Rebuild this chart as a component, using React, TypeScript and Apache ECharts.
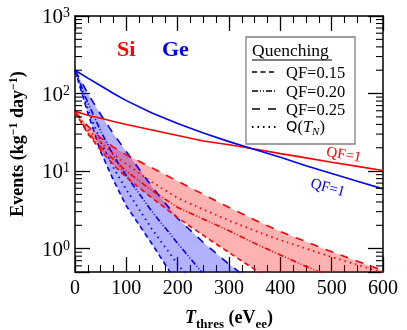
import React, { useEffect, useRef } from 'react';
import * as echarts from 'echarts';

// Threshold grid (eVee)
const T = [0, 25, 50, 75, 100, 150, 200, 250, 300, 350, 400, 450, 500, 550, 600];

// Si (red)
const siQF1 = [58.9, 52.5, 47.9, 43.6, 39.8, 33.9, 28.8, 24.5, 21.9, 19.3, 16.8, 14.8, 13.0, 11.5, 10.2];
const siQF025 = [58, 38, 26.9, 20.4, 16.2, 11.0, 7.4, 5.0, 3.4, 2.34, 1.66, 1.23, 0.91, 0.69, 0.52];
const siQTN = [58, 34.7, 23.4, 16.6, 12.3, 7.2, 4.5, 3.2, 2.3, 1.7, 1.29, 1.0, 0.78, 0.62, 0.49];
const siQF020 = [58, 31.6, 20.4, 14.1, 10.0, 5.6, 3.4, 2.4, 1.7, 1.17, 0.83, 0.59, 0.43, 0.31, 0.22];
const siQF015 = [58, 30.2, 18.6, 12.0, 8.3, 4.5, 2.5, 1.48, 0.89, 0.54, 0.33, 0.2, 0.13, 0.08, 0.05];

// Ge (blue)
const geQF1 = [200, 158, 126, 100, 81, 56, 41, 31, 24, 19, 15.1, 11.7, 9.3, 7.4, 5.9];
const geQF025 = [200, 100, 53.7, 30.2, 17.8, 6.3, 2.45, 1.2, 0.63, 0.35, 0.2, 0.12, 0.07, 0.04, 0.025];
const geQF020 = [200, 76, 33, 15.8, 8.7, 3.0, 1.17, 0.47, 0.2, 0.09, 0.04, 0.02, 0.01, 0.005, 0.0025];
const geQTN = [200, 63, 24, 11, 5.75, 1.78, 0.63, 0.25, 0.1, 0.04, 0.016, 0.007, 0.003, 0.0012, 0.0005];
const geQF015 = [200, 56, 17.8, 7.6, 3.55, 1.15, 0.35, 0.11, 0.035, 0.011, 0.0035, 0.001, 0.0003, 0.0001, 0.00003];

const xTicks = [0, 100, 200, 300, 400, 500, 600];
const legendLabels = ['QF=0.15', 'QF=0.20', 'QF=0.25'];

const RED = '#ff0000';
const BLUE = '#0000ff';
const SERIF = '"Liberation Serif", "Times New Roman", serif';

const DASH_015 = [5, 3.5];
const DASH_020 = [6, 2, 1, 2, 1, 2];
const DASH_025 = [8, 8];
const DASH_QTN = [1.5, 4];

function pairs(arr: number[]) {
  return T.map((t, i) => [t, arr[i]]);
}

function lineSeries(arr: number[], color: string, dash: any, width = 1.6) {
  return {
    type: 'line',
    data: pairs(arr),
    showSymbol: false,
    symbol: 'none',
    silent: true,
    z: 5,
    lineStyle: { color, width, type: dash },
  };
}

function bandSeries(upper: number[], lower: number[], fill: string, z: number) {
  return {
    type: 'custom',
    clip: true,
    silent: true,
    z,
    data: [[0, 1]],
    encode: { x: 0, y: 1 },
    renderItem: (_params: any, api: any) => {
      const pts: number[][] = [];
      for (let i = 0; i < T.length; i++) pts.push(api.coord([T[i], upper[i]]));
      for (let i = T.length - 1; i >= 0; i--) pts.push(api.coord([T[i], lower[i]]));
      return { type: 'polygon', shape: { points: pts }, style: { fill, stroke: 'none' } };
    },
  };
}

const tickStyle = { color: '#000', width: 1.3 };
const minorStyle = { color: '#000', width: 1.1 };

export default function App() {
  const ref = useRef<HTMLDivElement>(null);
  useEffect(() => {
    const chart = echarts.init(ref.current!, null, { renderer: 'svg' });
    const axisLine = { show: true, onZero: false, lineStyle: { color: '#000', width: 1.5 } };
    const option: any = {
      animation: false,
      grid: { left: 75, right: 24, top: 16, bottom: 58, containLabel: false, outerBoundsMode: 'none' },
      xAxis: [
        {
          type: 'value', min: 0, max: 600, interval: 100, position: 'bottom',
          axisLine,
          axisTick: { show: true, inside: true, length: 15, lineStyle: tickStyle },
          minorTick: { show: true, splitNumber: 4, length: 7, lineStyle: minorStyle },
          splitLine: { show: false },
          minorSplitLine: { show: false },
          axisLabel: {
            show: true, color: '#000', fontFamily: SERIF, fontSize: 20, margin: 5,
            formatter: (v: number) => (xTicks.includes(v) ? String(v) : ''),
          },
          name: '{t|T}{s|thres}{b| (eV}{s|ee}{b|)}',
          nameLocation: 'middle',
          nameGap: 36,
          nameTextStyle: {
            rich: {
              t: { fontFamily: SERIF, fontWeight: 'bold', fontStyle: 'italic', fontSize: 18, color: '#000', lineHeight: 19, verticalAlign: 'top' },
              b: { fontFamily: SERIF, fontWeight: 'bold', fontSize: 18, color: '#000', lineHeight: 19, verticalAlign: 'top' },
              s: { fontFamily: SERIF, fontWeight: 'bold', fontSize: 13, color: '#000', lineHeight: 13, padding: [9, 0, 0, 0], verticalAlign: 'top' },
            },
          },
        },
        {
          type: 'value', min: 0, max: 600, interval: 100, position: 'top',
          axisLine,
          axisTick: { show: true, inside: true, length: 15, lineStyle: tickStyle },
          minorTick: { show: true, splitNumber: 4, length: 7, lineStyle: minorStyle },
          splitLine: { show: false },
          minorSplitLine: { show: false },
          axisLabel: { show: false },
        },
      ],
      yAxis: [
        {
          type: 'log', logBase: 10, min: 0.5, max: 1000, position: 'left',
          axisLine,
          axisTick: { show: true, inside: true, length: 15, lineStyle: tickStyle },
          splitLine: { show: false },
          axisLabel: {
            show: true,
            margin: 5,
            formatter: (v: number) => {
              const e = Math.log10(v);
              const r = Math.round(e);
              if (Math.abs(e - r) > 1e-6) return '';
              return '{b|10}{s|' + r + '}';
            },
            rich: {
              b: { fontFamily: SERIF, fontSize: 21, color: '#000', lineHeight: 21, verticalAlign: 'bottom' },
              s: { fontFamily: SERIF, fontSize: 14, color: '#000', lineHeight: 14, padding: [0, 0, 9, 0], verticalAlign: 'top' },
            },
          },
          name: '{b|Events (kg}{s|\u22121}{b| day}{s|\u22121}{b|)}',
          nameLocation: 'middle',
          nameGap: 49,
          nameRotate: 90,
          nameTextStyle: {
            rich: {
              b: { fontFamily: SERIF, fontWeight: 'bold', fontSize: 18, color: '#000', lineHeight: 19, verticalAlign: 'bottom' },
              s: { fontFamily: SERIF, fontWeight: 'bold', fontSize: 12, color: '#000', lineHeight: 12, padding: [0, 0, 8, 0], verticalAlign: 'top' },
            },
          },
        },
        {
          type: 'log', logBase: 10, min: 0.5, max: 1000, position: 'right',
          axisLine,
          axisTick: { show: true, inside: true, length: 15, lineStyle: tickStyle },
          splitLine: { show: false },
          axisLabel: { show: false },
        },
      ],
      series: [
        bandSeries(geQF025, geQF015, 'rgba(0,0,255,0.3)', 1),
        bandSeries(siQF025, siQF015, 'rgba(255,0,0,0.3)', 2),
        lineSeries(geQF015, BLUE, DASH_015),
        lineSeries(geQTN, BLUE, DASH_QTN, 1.8),
        lineSeries(geQF020, BLUE, DASH_020),
        lineSeries(geQF025, BLUE, DASH_025),
        lineSeries(siQF015, RED, DASH_015),
        lineSeries(siQTN, RED, DASH_QTN, 1.8),
        lineSeries(siQF020, RED, DASH_020),
        lineSeries(siQF025, RED, DASH_025),
        lineSeries(siQF1, RED, 'solid', 1.6),
        lineSeries(geQF1, BLUE, 'solid', 1.6),
      ],
    };
    chart.setOption(option);

    // minor ticks on the log axes (positions from the chart's own scales)
    const minorVals: number[] = [];
    [0.1, 1, 10, 100].forEach((d) => {
      for (let k = 2; k <= 9; k++) {
        const v = k * d;
        if (v > 0.5 && v < 1000) minorVals.push(v);
      }
    });
    const graphics: any[] = [];
    minorVals.forEach((v) => {
      const pl = chart.convertToPixel({ gridIndex: 0 } as any, [0, v]) as any;
      const pr = chart.convertToPixel({ gridIndex: 0 } as any, [600, v]) as any;
      if (!pl || !pr) return;
      const y = pl[1];
      graphics.push({ type: 'line', z: 50, silent: true, shape: { x1: pl[0], y1: y, x2: pl[0] + 7, y2: y }, style: { stroke: '#000', lineWidth: 1.1 } });
      graphics.push({ type: 'line', z: 50, silent: true, shape: { x1: pr[0] - 7, y1: y, x2: pr[0], y2: y }, style: { stroke: '#000', lineWidth: 1.1 } });
    });

    // Si / Ge labels
    graphics.push({ type: 'text', z: 60, x: 117, y: 37, style: { text: 'Si', fill: RED, font: `bold 22px ${SERIF}` } });
    graphics.push({ type: 'text', z: 60, x: 162, y: 37, style: { text: 'Ge', fill: BLUE, font: `bold 22px ${SERIF}` } });

    // QF=1 labels
    graphics.push({ type: 'text', z: 60, x: 344, y: 154, rotation: -0.17, style: { text: 'QF=1', fill: RED, font: `15px ${SERIF}`, align: 'center', verticalAlign: 'middle' } });
    graphics.push({ type: 'text', z: 60, x: 328, y: 187, rotation: -0.27, style: { text: 'QF=1', fill: BLUE, font: `15px ${SERIF}`, align: 'center', verticalAlign: 'middle' } });

    // Legend box
    graphics.push({ type: 'rect', z: 70, shape: { x: 246, y: 37, width: 109, height: 107 }, style: { fill: '#fff', stroke: '#808080', lineWidth: 1.3 } });
    graphics.push({ type: 'text', z: 71, x: 252, y: 50, style: { text: 'Quenching', fill: '#000', font: `17.5px ${SERIF}`, verticalAlign: 'middle' } });
    graphics.push({ type: 'line', z: 71, shape: { x1: 252, y1: 60, x2: 332, y2: 60 }, style: { stroke: '#000', lineWidth: 1 } });
    const dashes = [DASH_015, DASH_020, DASH_025, DASH_QTN];
    const ys = [72, 91, 109, 127];
    dashes.forEach((d, i) => {
      graphics.push({ type: 'line', z: 71, shape: { x1: 252, y1: ys[i], x2: 277, y2: ys[i] }, style: { stroke: '#000', lineWidth: i === 3 ? 1.8 : 1.6, lineDash: d } });
    });
    legendLabels.forEach((s, i) => {
      graphics.push({ type: 'text', z: 71, x: 286, y: ys[i], style: { text: s, fill: '#000', font: `16.5px ${SERIF}`, verticalAlign: 'middle' } });
    });
    graphics.push({
      type: 'text', z: 71, x: 286, y: ys[3] - 1,
      style: {
        text: '{q|Q}{b|(}{i|T}{n|N}{b|)}', verticalAlign: 'middle',
        rich: {
          q: { fontFamily: '"DejaVu Sans", sans-serif', fontSize: 14.5, fill: '#000', lineHeight: 16, verticalAlign: 'top' },
          b: { fontFamily: SERIF, fontSize: 16.5, fill: '#000', lineHeight: 16, verticalAlign: 'top' },
          i: { fontFamily: SERIF, fontStyle: 'italic', fontSize: 16.5, fill: '#000', lineHeight: 16, verticalAlign: 'top' },
          n: { fontFamily: SERIF, fontStyle: 'italic', fontSize: 11, fill: '#000', lineHeight: 11, padding: [7, 0, 0, 0], verticalAlign: 'top' },
        },
      },
    });
    chart.setOption({ graphic: graphics });
    return () => chart.dispose();
  }, []);
  return <div ref={ref} style={{ position: 'fixed', left: 0, top: 0, width: 407, height: 330 }} />;
}
